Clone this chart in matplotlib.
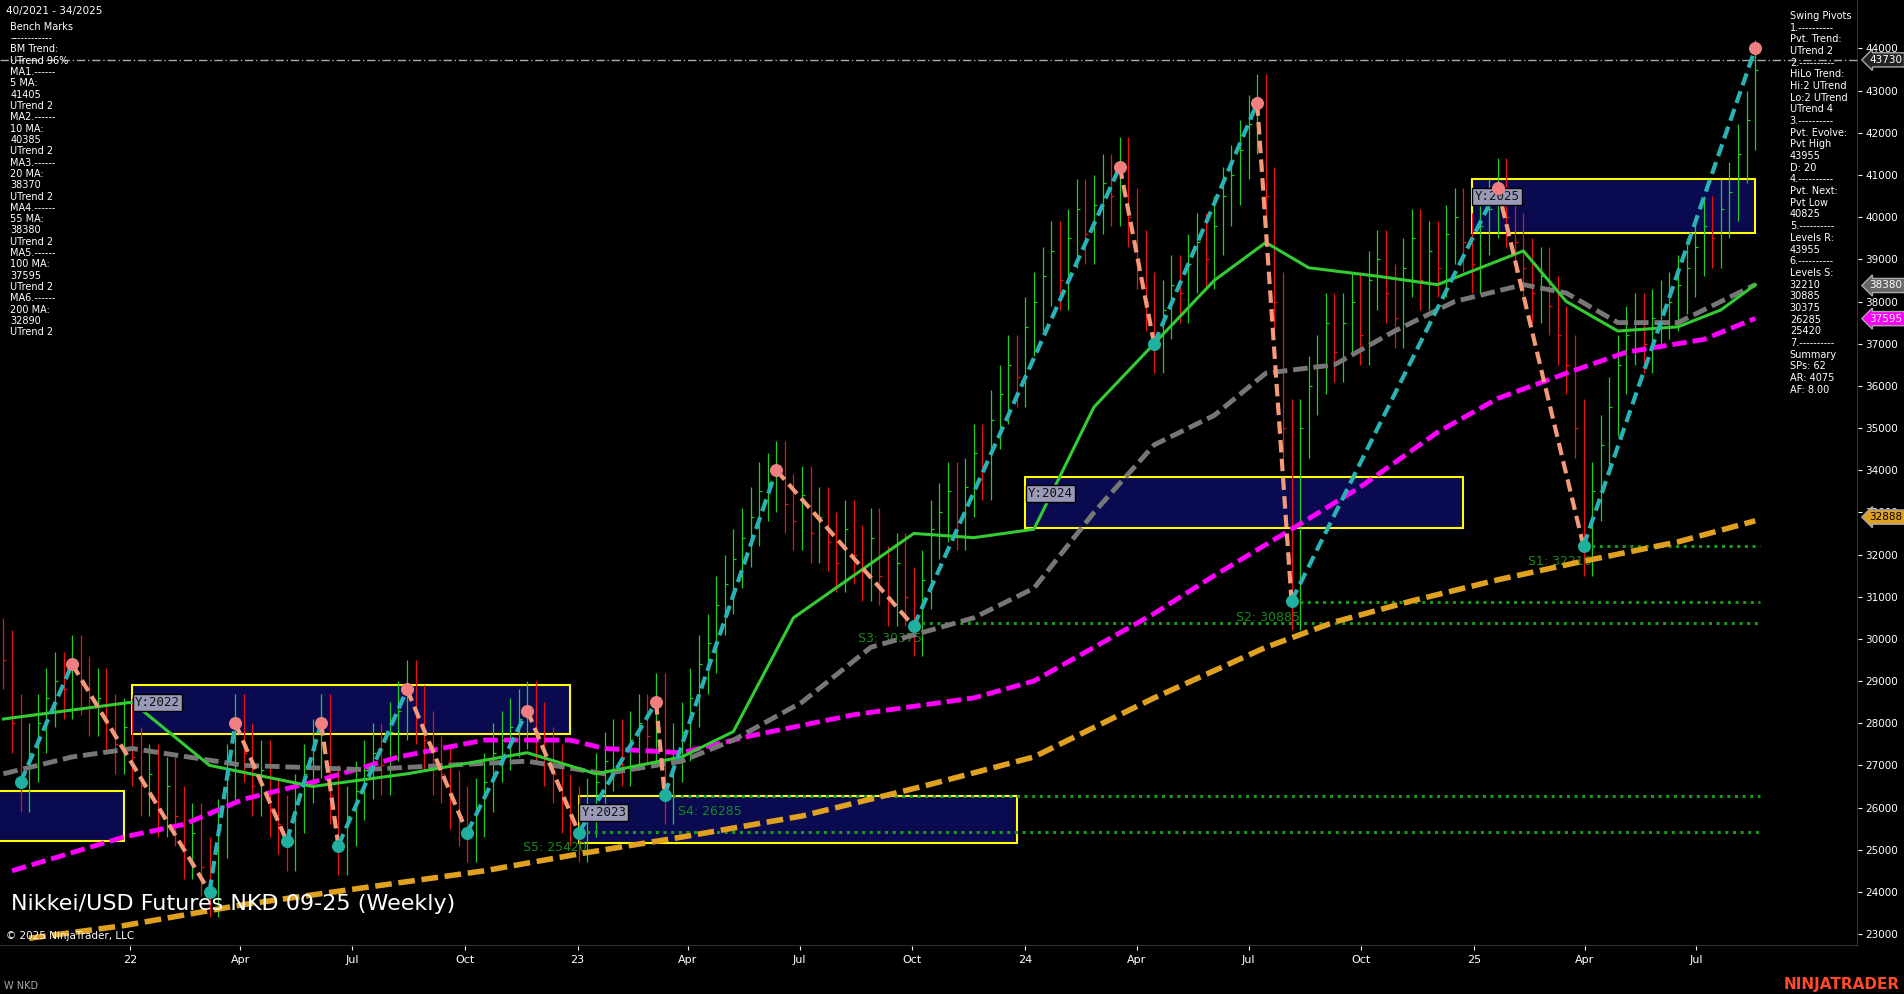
import numpy as np
import pandas as pd
import matplotlib
matplotlib.use("Agg")
import matplotlib.pyplot as plt

# weekly closes (thousands), week 0 = 2021-09-20
closes = [29.5, 28.0, 26.6, 27.3, 28.0, 28.6, 29.0, 28.8, 29.4,
          28.9, 28.4, 28.6, 28.0, 27.5, 27.9, 27.2, 26.5, 26.8, 26.0, 26.5, 25.8, 25.0, 25.4, 24.6, 24.1,
          25.5, 26.8, 28.0, 27.3, 26.5, 26.9, 26.0, 25.6, 25.2, 26.1, 26.8, 27.4, 28.0, 26.3, 25.1,
          25.8, 26.4, 26.9, 27.3, 27.0, 27.8, 28.3, 28.8, 28.2, 27.6, 27.0, 26.8, 26.2, 25.8, 25.4,
          26.0, 26.6, 27.3, 27.6, 27.9, 28.1, 28.3, 27.8, 27.2, 26.8, 26.1, 25.8, 25.4,
          26.0, 26.6, 27.1, 27.4, 27.2, 27.6, 28.0, 27.7, 28.5, 26.3,
          27.3, 27.8, 28.6, 29.4, 29.9, 30.8, 31.3, 31.9, 32.4, 32.9, 33.5, 33.7, 34.0,
          33.2, 32.8, 33.4, 32.5, 32.9, 32.3, 31.8, 32.6, 32.0, 31.6, 32.4, 31.5, 31.0, 31.8, 31.0, 30.3,
          31.4, 32.6, 33.0, 33.5, 32.8, 33.6, 34.4, 34.0, 35.2, 35.8, 36.5, 36.2, 37.4, 38.0, 38.6, 39.2,
          38.5, 39.5, 40.2, 39.6, 40.3, 40.8, 40.5, 41.2, 40.0, 39.0, 38.0, 37.0,
          37.8, 38.4, 38.2, 38.9, 39.4, 39.0, 39.8, 40.5, 41.0, 41.6, 42.2, 42.7, 40.5, 38.0, 35.0, 30.9,
          35.0, 36.0, 36.5, 37.5, 36.8, 37.5, 38.0, 37.2, 38.5, 39.0, 38.2, 37.6, 38.8, 39.5, 38.5, 39.2,
          38.8, 39.6, 40.0, 39.4, 38.9, 39.8, 40.2, 40.7,
          40.0, 39.4, 38.8, 38.2, 38.6, 37.9, 37.2, 36.5, 35.0, 32.2,
          33.5, 34.6, 35.5, 36.5, 37.2, 37.5, 37.0, 37.6, 37.8, 38.0, 38.4, 38.8, 39.3, 39.8, 39.5, 40.2,
          40.6, 41.5, 42.3, 43.5]
wick = 0.7

# swing pivots (week, price)
piv_w = [2, 8, 24, 27, 33, 37, 39, 47, 54, 61, 67, 76, 77, 90, 106, 130, 134, 146, 150, 174, 184, 204]
piv_p = [26.6, 29.4, 24.0, 28.0, 25.2, 28.0, 25.1, 28.8, 25.4, 28.3, 25.4, 28.5, 26.3, 34.0, 30.3,
         41.2, 37.0, 42.7, 30.9, 40.7, 32.2, 44.0]

# moving averages knots (week, price)
ma20_w = [0, 15, 24, 36, 47, 61, 69, 79, 85, 92, 99, 106, 113, 120, 127, 134, 141, 147, 152, 160, 167, 177, 182, 188, 195, 200, 204]
ma20_p = [28.1, 28.5, 27.0, 26.5, 26.8, 27.3, 26.8, 27.2, 27.8, 30.5, 31.5, 32.5, 32.4, 32.6, 35.5, 37.0, 38.5, 39.4,
          38.8, 38.6, 38.4, 39.2, 38.0, 37.3, 37.4, 37.8, 38.4]
ma55_w = [0, 8, 15, 28, 42, 61, 70, 79, 85, 93, 101, 113, 120, 127, 134, 141, 147, 155, 162, 169, 177, 182, 188, 195, 200, 204]
ma55_p = [26.8, 27.2, 27.4, 27.0, 26.9, 27.1, 26.8, 27.1, 27.6, 28.5, 29.8, 30.5, 31.2, 33.0, 34.6, 35.3, 36.3, 36.5,
          37.3, 38.0, 38.4, 38.2, 37.5, 37.5, 38.0, 38.4]
ma100_w = [1, 14, 21, 28, 36, 46, 56, 66, 70, 79, 87, 99, 113, 120, 127, 134, 141, 150, 158, 167, 174, 182, 189, 198, 204]
ma100_p = [24.5, 25.3, 25.6, 26.2, 26.6, 27.2, 27.6, 27.6, 27.4, 27.3, 27.7, 28.2, 28.6, 29.0, 29.8, 30.6, 31.5, 32.6,
           33.6, 34.9, 35.7, 36.3, 36.8, 37.1, 37.6]
ma200_w = [3, 14, 28, 42, 56, 67, 79, 93, 107, 120, 134, 147, 155, 164, 174, 183, 195, 204]
ma200_p = [22.9, 23.2, 23.7, 24.1, 24.5, 24.9, 25.3, 25.8, 26.5, 27.2, 28.6, 29.8, 30.4, 30.9, 31.4, 31.8, 32.3, 32.8]

# supports (start week, price, label)
sup_w = [184, 150, 106, 77, 67]
sup_p = [32.21, 30.885, 30.375, 26.285, 25.42]
sup_lbl = ["S1: 32210", "S2: 30885", "S3: 30375", "S4: 26285", "S5: 25420"]

# yearly range boxes (start week, end week, low, high, label)
box_w0 = [-1, 15, 67, 119, 171]
box_w1 = [14, 66, 118, 170, 204]
box_lo = [25.2, 27.75, 25.15, 32.64, 39.63]
box_hi = [26.4, 28.9, 26.28, 33.85, 40.9]
box_lbl = ["", "Y:2022", "Y:2023", "Y:2024", "Y:2025"]

start = pd.Timestamp("2021-09-20")
tick_dates = ["2022-01-01", "2022-04-01", "2022-07-01", "2022-10-01", "2023-01-01", "2023-04-01",
              "2023-07-01", "2023-10-01", "2024-01-01", "2024-04-01", "2024-07-01", "2024-10-01",
              "2025-01-01", "2025-04-01", "2025-07-01"]
tick_lbls = ["22", "Apr", "Jul", "Oct", "23", "Apr", "Jul", "Oct", "24", "Apr", "Jul", "Oct", "25", "Apr", "Jul"]

fig = plt.figure(figsize=(19.04, 9.94), dpi=100, facecolor="black")
ax = fig.add_axes([0, 0.048, 0.976, 0.952], facecolor="black")
k = 1000.0

c = np.array(closes) * k
o = np.concatenate([[c[0] + 300], c[:-1]])
wk = np.arange(len(c))
for i in wk:
    col = "#22cc22" if c[i] >= o[i] else "#ee1111"
    ax.vlines(i, min(o[i], c[i]) - wick * k, max(o[i], c[i]) + wick * k, color=col, lw=0.9, zorder=2)
    ax.hlines(c[i], i, i + 0.35, color=col, lw=0.9, zorder=2)

for x0, x1, lo, hi, lb in zip(box_w0, box_w1, box_lo, box_hi, box_lbl):
    ax.add_patch(plt.Rectangle((x0, lo * k), x1 - x0, (hi - lo) * k, facecolor="#0a0a50",
                               edgecolor="yellow", lw=1.5, zorder=1))
    if lb:
        ax.text(x0 + 0.3, hi * k - 250, lb, color="#111111", fontsize=9, family="DejaVu Sans Mono",
                va="top", bbox=dict(facecolor="#9a9ab8", edgecolor="black", pad=1.5), zorder=6)

for w, p, lb in zip(sup_w, sup_p, sup_lbl):
    ax.hlines(p * k, w, 204.5, color="#1a9a1a", lw=2.2, linestyles=(0, (1, 1.5)), zorder=3)
    dx = 6.5 if lb != "S4: 26285" else -1.5
    ax.text(w - dx, p * k - 450, lb, color="#1a8a1a", fontsize=9, zorder=3)

ax.plot(np.array(ma200_w), np.array(ma200_p) * k, color="#e0a020", lw=4, ls=(0, (3, 1.2)), zorder=4)
ax.plot(np.array(ma100_w), np.array(ma100_p) * k, color="#ff00ff", lw=3.5, ls=(0, (3, 1.2)), zorder=4)
ax.plot(np.array(ma55_w), np.array(ma55_p) * k, color="#777777", lw=3.5, ls=(0, (3, 1.2)), zorder=4)
ax.plot(np.array(ma20_w), np.array(ma20_p) * k, color="#33cc33", lw=2.2, zorder=4)

for i in range(len(piv_w) - 1):
    up = piv_p[i + 1] > piv_p[i]
    ax.plot(piv_w[i:i + 2], np.array(piv_p[i:i + 2]) * k, color="#28b4b4" if up else "#f49a7a",
            lw=3, ls=(0, (3, 1.5)), zorder=5)
for w, p, j in zip(piv_w, piv_p, range(len(piv_w))):
    hi = j + 1 < len(piv_p) and piv_p[j + 1] < p or j == len(piv_p) - 1
    ax.scatter(w, p * k, s=70, color="#f08080" if hi else "#20b0a0", zorder=6)

ax.axhline(43730, color="#aaaaaa", lw=1, ls=(0, (6, 2, 1, 2)), zorder=3)

ax.set_xlim(-0.4, 216)
ax.set_ylim(22710, 45150)
for s in ax.spines.values():
    s.set_visible(False)
ax.axvline(216, color="white", lw=1)
ax.axhline(22710, color="white", lw=1)
ax.set_xticks([(pd.Timestamp(d) - start).days / 7 for d in tick_dates])
ax.set_xticklabels(tick_lbls)
ax.yaxis.tick_right()
ax.set_yticks(np.arange(23000, 44001, 1000))
ax.tick_params(colors="white", labelsize=8, length=3)
ax.tick_params(axis="y", labelsize=7.5, pad=2)

for v, fc, tc in [(43730, "#222222", "white"), (38380, "#666666", "white"),
                  (37595, "#ff00ff", "white"), (32888, "#e0a020", "black")]:
    ax.text(1.006, (v - 22710) / (45150 - 22710), f"{v}", transform=ax.transAxes, color=tc, fontsize=7.5,
            va="center", ha="left", bbox=dict(facecolor=fc, edgecolor="#aaaaaa",
                                              boxstyle="larrow,pad=0.2"), zorder=10)

left = ["Bench Marks", "------------", "BM Trend:", "UTrend 96%", "MA1.------", "5 MA:", "41405",
        "UTrend 2", "MA2.------", "10 MA:", "40385", "UTrend 2", "MA3.------", "20 MA:", "38370",
        "UTrend 2", "MA4.------", "55 MA:", "38380", "UTrend 2", "MA5.------", "100 MA:", "37595",
        "UTrend 2", "MA6.------", "200 MA:", "32890", "UTrend 2"]
fig.text(0.003, 0.994, "40/2021 - 34/2025", color="white", fontsize=7.5, va="top")
for i, t in enumerate(left):
    fig.text(0.0055, 0.978 - i * 0.01138, t, color="white", fontsize=7, va="top")
right = ["Swing Pivots", "1.----------", "Pvt. Trend:", "UTrend 2", "2.----------", "HiLo Trend:",
         "Hi:2 UTrend", "Lo:2 UTrend", "UTrend 4", "3.----------", "Pvt. Evolve:", "Pvt High",
         "43955", "D: 20", "4.----------", "Pvt. Next:", "Pvt Low", "40825", "5.----------",
         "Levels R:", "43955", "6.----------", "Levels S:", "32210", "30885", "30375", "26285",
         "25420", "7.----------", "Summary", "SPs: 62", "AR: 4075", "AF: 8.00"]
for i, t in enumerate(right):
    fig.text(0.94, 0.989 - i * 0.01175, t, color="white", fontsize=7, va="top")

fig.text(0.006, 0.085, "Nikkei/USD Futures NKD 09-25 (Weekly)", color="white", fontsize=16)
fig.text(0.003, 0.055, "© 2025 NinjaTrader, LLC", color="white", fontsize=7.5)
fig.text(0.002, 0.005, "W NKD", color="#aaaaaa", fontsize=7)
fig.text(0.998, 0.005, "NINJATRADER", color="#ff4a2a", fontsize=11, weight="bold", ha="right")

fig.savefig("out.png", dpi=100, facecolor="black")
